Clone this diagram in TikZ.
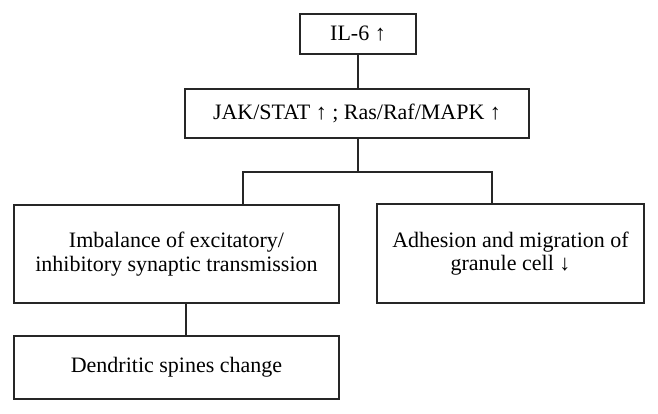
\documentclass[tikz,border=0pt]{standalone}
\usepackage{fontspec}
\setmainfont{Liberation Serif}
\begin{document}
\begin{tikzpicture}[x=1pt,y=-1pt,
  box/.style={draw=black!85, line width=1.1pt, inner sep=0pt, align=center, font=\fontsize{22}{23.5}\selectfont},
  link/.style={draw=black!85, line width=1.1pt}]
\useasboundingbox (0,0) rectangle (658,413);
\node[box, minimum width=116, minimum height=40] (il6) at (358,34) {IL-6 ↑};
\node[box, minimum width=344, minimum height=49] (jak) at (357,113.5) {JAK/STAT ↑ ; Ras/Raf/MAPK ↑};
\node[box, minimum width=325, minimum height=98] (imb) at (176.5,254) {Imbalance of excitatory/\\inhibitory synaptic transmission};
\node[box, minimum width=267, minimum height=99] (adh) at (510.5,253.5) {Adhesion and migration of\\granule cell ↓};
\node[box, minimum width=325, minimum height=63] (den) at (176.5,367.5) {Dendritic spines change};
\coordinate (split) at (358,172);
\coordinate (lt) at (243,172);
\coordinate (rt) at (492,172);
\coordinate (dv) at (186,320);
\draw[link] (il6.south) -- (il6.south |- jak.north);
\draw[link] (split |- jak.south) -- (split);
\draw[link] (lt |- imb.north) -- (lt) -- (rt) -- (rt |- adh.north);
\draw[link] (dv |- imb.south) -- (dv |- den.north);
\end{tikzpicture}
\end{document}
